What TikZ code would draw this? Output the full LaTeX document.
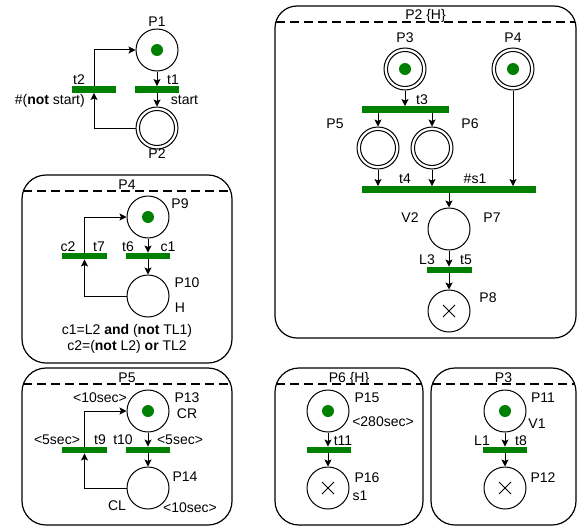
\documentclass[tikz,border=0pt]{standalone}
\usepackage{fontspec}
\setmainfont{Liberation Sans}
\usetikzlibrary{arrows.meta}
\definecolor{pgreen}{HTML}{008000}
\begin{document}
\begin{tikzpicture}[x=1pt,y=-1pt,
  every node/.style={font=\fontsize{14}{16}\selectfont},
  place/.style={circle,draw,line width=1pt,minimum size=42pt,inner sep=0pt},
  bar/.style={rectangle,fill=pgreen,draw=none,minimum width=44pt,minimum height=6.5pt,inner sep=0pt},
  lbl/.style={anchor=base,inner sep=0pt},
  arr/.style={-{Stealth[length=7pt,width=7pt,inset=1.5pt]},line width=1pt},
  line/.style={line width=1pt},
  box/.style={draw,line width=1.2pt,rounded corners=24pt},
  lane/.style={line width=1.2pt,dash pattern=on 9pt off 5pt}]
\useasboundingbox (0,0) rectangle (580,527);

% ---------- boxes ----------
\draw[box,rounded corners=22pt] (275,6) rectangle (576,338);
\draw[lane] (276,22) -- (575,22);
\node[lbl] (tP2) at (425.5,20) {P2 \{H\}};

\draw[box] (22,175) rectangle (232,363);
\draw[lane] (23,191) -- (231,191);
\node[lbl] (tP4) at (127,189) {P4};

\draw[box] (22,368) rectangle (232,525);
\draw[lane] (23,384) -- (231,384);
\node[lbl] (tP5) at (127,382) {P5};

\draw[box] (275,368) rectangle (423,525);
\draw[lane] (276,384) -- (422,384);
\node[lbl] (tP6) at (349,382) {P6 \{H\}};

\draw[box] (431,368) rectangle (576,525);
\draw[lane] (432,384) -- (575,384);
\node[lbl] (tP3) at (503.5,382) {P3};

% ---------- places ----------
\node[place] (P1) at (157,50) {};
\node[place] (P2) at (157,128) {};
\node[place] (P3) at (405,69) {};
\node[place] (P4) at (513,69) {};
\node[place] (P5) at (378,148) {};
\node[place] (P6) at (432,148) {};
\node[place] (P7) at (449,229) {};
\node[place] (P8) at (449,311) {};
\node[place] (P9) at (148,217) {};
\node[place] (P10) at (148,296) {};
\node[place] (P13) at (148,411) {};
\node[place] (P14) at (148,488) {};
\node[place] (P15) at (328,411) {};
\node[place] (P16) at (328,488) {};
\node[place] (P11) at (505,411) {};
\node[place] (P12) at (505,488) {};

\foreach \n in {P2,P3,P4,P5,P6} \draw[line] (\n.center) circle (17.5pt);
\foreach \n in {P1,P3,P4,P9,P13,P15,P11} \fill[pgreen] (\n.center) circle (6pt);
\foreach \n in {P8,P16,P12} {
  \draw[line] ([shift={(-6pt,-6pt)}]\n.center) -- ([shift={(6pt,6pt)}]\n.center);
  \draw[line] ([shift={(-6pt,6pt)}]\n.center) -- ([shift={(6pt,-6pt)}]\n.center);
}

% ---------- transitions ----------
\node[bar] (t1) at (157,89.5) {};
\node[bar] (t2) at (94,89.5) {};
\node[bar,minimum width=87pt] (t3) at (405.5,109.5) {};
\node[bar,minimum width=174pt] (t4) at (449,189.5) {};
\node[bar,minimum width=45pt] (t5) at (449.5,270) {};
\node[bar] (t6) at (148,256) {};
\node[bar,minimum width=45pt] (t7) at (84.5,256) {};
\node[bar] (t10) at (148,450) {};
\node[bar,minimum width=45pt] (t9) at (84.5,450) {};
\node[bar] (t11) at (329,450) {};
\node[bar] (t8) at (505,450) {};

% ---------- arcs ----------
\draw[arr] (P1) -- (t1);
\draw[arr] (t1) -- (P2);
\draw[arr] (P2.west) -| (t2);
\draw[arr] (t2) |- (P1);

\draw[arr] (P3) -- (t3.north -| P3);
\draw[arr] (t3.south -| P5) -- (P5);
\draw[arr] (t3.south -| P6) -- (P6);
\draw[arr] (P5) -- (t4.north -| P5);
\draw[arr] (P6) -- (t4.north -| P6);
\draw[arr] (P4) -- (t4.north -| P4);
\draw[arr] (t4.south -| P7) -- (P7);
\draw[arr] (P7) -- (t5.north -| P7);
\draw[arr] (t5.south -| P8) -- (P8);

\draw[arr] (P9) -- (t6);
\draw[arr] (t6) -- (P10);
\draw[arr] (P10.west) -| (t7);
\draw[arr] (t7) |- (P9);

\draw[arr] (P13) -- (t10);
\draw[arr] (t10) -- (P14);
\draw[arr] (P14.west) -| (t9);
\draw[arr] (t9) |- (P13);

\draw[arr] (P15) -- (t11.north -| P15);
\draw[arr] (t11.south -| P16) -- (P16);

\draw[arr] (P11) -- (t8);
\draw[arr] (t8) -- (P12);

% ---------- labels ----------
\node[lbl] (lP1) at (157,27) {P1};
\node[lbl] (lt1) at (173,84) {t1};
\node[lbl] (lstart) at (184.5,104) {start};
\node[lbl] (lt2) at (79,84) {t2};
\node[lbl,anchor=base east] (lnot) at (85,104) {\#(\textbf{not} start)};
\node[lbl] (lP2) at (157,158) {P2};

\node[lbl] (lP3) at (405,43) {P3};
\node[lbl] (lP4) at (513,43) {P4};
\node[lbl] (lt3) at (422,104) {t3};
\node[lbl] (lP5) at (335,128) {P5};
\node[lbl] (lP6) at (470,128) {P6};
\node[lbl] (lt4) at (405,183) {t4};
\node[lbl] (ls1) at (475,183) {\#s1};
\node[lbl] (lV2) at (410,222) {V2};
\node[lbl] (lP7) at (492,222) {P7};
\node[lbl] (lL3) at (427,264) {L3};
\node[lbl] (lt5) at (466,264) {t5};
\node[lbl] (lP8) at (488,302) {P8};

\node[lbl] (lP9) at (180,208) {P9};
\node[lbl] (lc2) at (68,251) {c2};
\node[lbl] (lt7) at (99,251) {t7};
\node[lbl] (lt6) at (128,251) {t6};
\node[lbl] (lc1) at (168,251) {c1};
\node[lbl] (lP10) at (187,287) {P10};
\node[lbl] (lH) at (180,312) {H};
\node[lbl] (lcond1) at (127,334) {c1=L2 \textbf{and} (\textbf{not} TL1)};
\node[lbl] (lcond2) at (127,350) {c2=(\textbf{not} L2) \textbf{or} TL2};

\node[lbl] (lP13t) at (100,402) {<10sec>};
\node[lbl] (lP13) at (187,402) {P13};
\node[lbl] (lCR) at (187,418) {CR};
\node[lbl] (lt9d) at (57,444) {<5sec>};
\node[lbl] (lt9) at (100,444) {t9};
\node[lbl] (lt10) at (123,444) {t10};
\node[lbl] (lt10d) at (180,444) {<5sec>};
\node[lbl] (lP14) at (185,481) {P14};
\node[lbl] (lCL) at (117,510) {CL};
\node[lbl] (lP14t) at (190,512) {<10sec>};

\node[lbl] (lP15) at (367,402) {P15};
\node[lbl] (lP15t) at (383,426) {<280sec>};
\node[lbl] (lt11) at (343,445) {t11};
\node[lbl] (lP16) at (367,482) {P16};
\node[lbl] (ls1b) at (360,500) {s1};

\node[lbl] (lP11) at (543,402) {P11};
\node[lbl] (lV1) at (537,428) {V1};
\node[lbl] (lL1) at (482,445) {L1};
\node[lbl] (lt8) at (521,445) {t8};
\node[lbl] (lP12) at (543,482) {P12};
\end{tikzpicture}
\end{document}
